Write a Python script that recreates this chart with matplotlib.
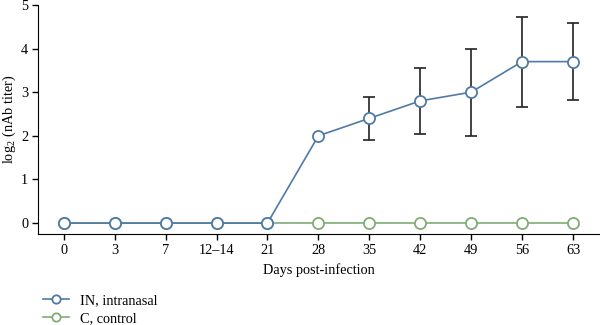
import numpy as np
import matplotlib
matplotlib.use('Agg')
import matplotlib.pyplot as plt

# 数据
days = ['0', '3', '7', '12–14', '21', '28', '35', '42', '49', '56', '63']
in_titer = [0, 0, 0, 0, 0, 2.0, 2.4, 2.8, 3.0, 3.7, 3.7]
in_err = [0, 0, 0, 0, 0, 0, 0.5, 0.75, 1.0, 1.03, 0.88]
c_titer = [0, 0, 0, 0, 0, 0, 0, 0, 0, 0, 0]

plt.rcParams['font.family'] = ['Liberation Serif', 'DejaVu Serif']
plt.rcParams['font.size'] = 10.3
plt.rcParams['mathtext.fontset'] = 'custom'
plt.rcParams['mathtext.rm'] = 'Liberation Serif'

fig = plt.figure(figsize=(6, 3.25), dpi=100)
ax = fig.add_axes([0.063, 0.28, 0.937, 0.705])

x = np.arange(len(days))
blue = '#4f7aa8'
green = '#7fad74'

# 误差线画在点的下面
ax.errorbar(x[6:], in_titer[6:], yerr=in_err[6:], fmt='none', ecolor='#222222',
            elinewidth=1.2, capsize=4, capthick=1.2, zorder=1)
ax.plot(x, c_titer, color=green, lw=1.2, marker='o', ms=8, mfc='white',
        mec=green, mew=1.3, zorder=2, label='C, control')
ax.plot(x, in_titer, color=blue, lw=1.2, marker='o', ms=8, mfc='white',
        mec=blue, mew=1.3, zorder=3, label='IN, intranasal')

ax.set_xlim(-0.51, 10.53)
ax.set_ylim(-0.25, 5)
ax.set_xticks(x)
ax.set_xticklabels(days)
ax.set_yticks(range(6))
ax.spines['top'].set_visible(False)
ax.spines['right'].set_visible(False)
ax.tick_params(direction='out', length=4, width=1, pad=3)
ax.set_xlabel('Days post-infection', labelpad=5)
ax.set_ylabel(r'log$_\mathregular{2}$ (nAb titer)')
ax.yaxis.set_label_coords(-0.035, 0.5)

h, l = ax.get_legend_handles_labels()
fig.legend(h[::-1], l[::-1], loc='lower left', bbox_to_anchor=(0.05, -0.04),
           frameon=False, handlelength=1.8, markerscale=0.75, labelspacing=0.35)

fig.savefig('out.png', dpi=100)
